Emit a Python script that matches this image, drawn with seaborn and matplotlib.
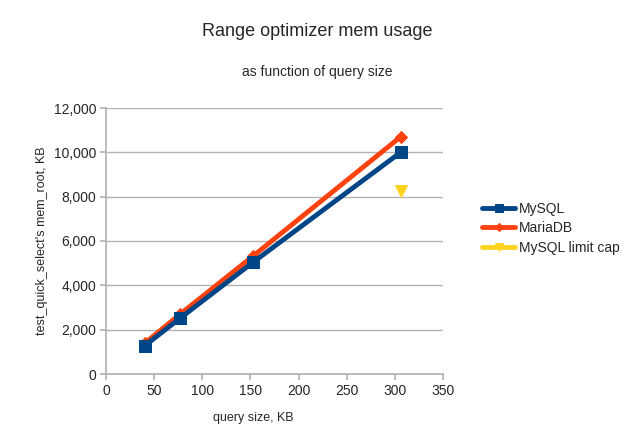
import matplotlib
matplotlib.use("Agg")
import matplotlib.pyplot as plt
import seaborn as sns
from matplotlib.ticker import FuncFormatter, MultipleLocator

sns.set_theme(style="white")
plt.rcParams['font.family'] = ['Liberation Sans', 'DejaVu Sans']

query_kb = [40, 77, 153, 306]
mysql = [1270, 2520, 5050, 10000]
mariadb = [1380, 2700, 5330, 10700]
cap_x = [306]
cap_y = [8270]

fig = plt.figure(figsize=(6.31, 4.33), dpi=100)
ax = fig.add_axes([106/631, 1-374/433, (443-106)/631, (374-108)/433])

sns.lineplot(x=query_kb, y=mysql, ax=ax, color="#004586", lw=3.5, marker="s",
             markersize=9, markeredgecolor="#004586", label="MySQL", zorder=3)
sns.lineplot(x=query_kb, y=mariadb, ax=ax, color="#ff420e", lw=3.5, marker="D",
             markersize=6, markeredgecolor="#ff420e", label="MariaDB", zorder=2)
sns.lineplot(x=cap_x, y=cap_y, ax=ax, color="#ffd320", lw=3.5, marker="v",
             markersize=8, markeredgecolor="#ffd320", label="MySQL limit cap", zorder=4)

ax.set_xlim(0, 350)
ax.set_ylim(0, 12000)
ax.xaxis.set_major_locator(MultipleLocator(50))
ax.yaxis.set_major_locator(MultipleLocator(2000))
ax.yaxis.set_major_formatter(FuncFormatter(lambda v, p: f"{int(v):,}"))
ax.grid(axis="y", color="#b3b3b3", lw=1)
ax.set_axisbelow(True)
for s in ["top", "right"]:
    ax.spines[s].set_visible(False)
for s in ["left", "bottom"]:
    ax.spines[s].set_color("#b3b3b3")
ax.tick_params(axis="both", which="major", length=4, color="#b3b3b3",
               labelsize=10, direction="out", bottom=True, left=True, pad=3)
ax.set_xlabel("")
ax.set_ylabel("test_quick_select's mem_root, KB", fontsize=9)
fig.text(253/631, 1-418/433, "query size, KB", ha="center", va="center", fontsize=9)

fig.text(317/631, 1-32/433, "Range optimizer mem usage", ha="center", va="center", fontsize=13)
fig.text(317/631, 1-72/433, "as function of query size", ha="center", va="center", fontsize=10)

ax.legend(loc="upper left", bbox_to_anchor=(482/631, 1-202/433), bbox_transform=fig.transFigure,
          frameon=False, fontsize=10, handlelength=2.4, labelspacing=0.38, handletextpad=0.25,
          borderaxespad=0, borderpad=0, markerscale=0.7)

fig.savefig("out.png", dpi=100)
